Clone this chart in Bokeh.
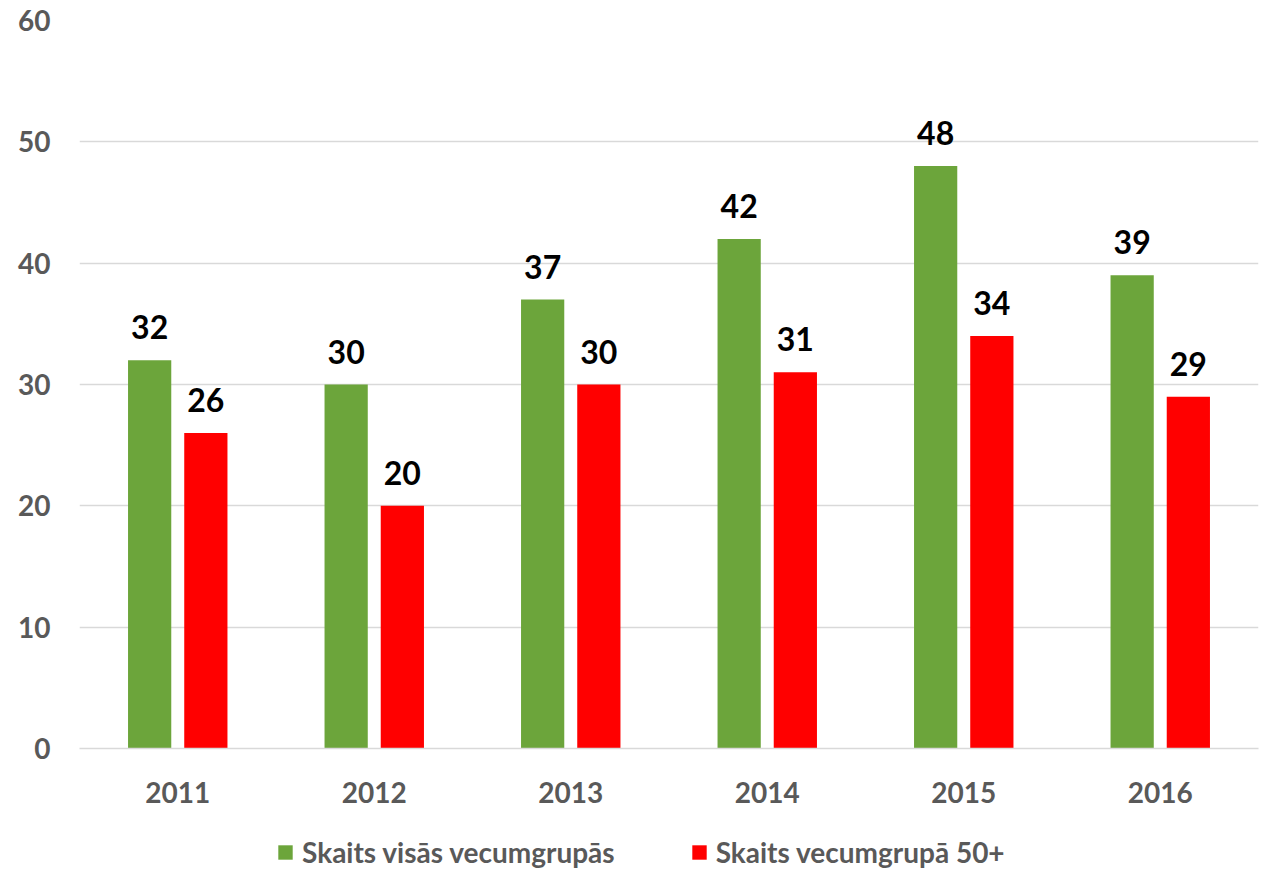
from bokeh.plotting import figure
from bokeh.layouts import column
from bokeh.models import ColumnDataSource, Range1d, FactorRange, Legend, LegendItem, SingleIntervalTicker
from bokeh.transform import dodge
from bokeh.embed import file_html
from bokeh.resources import INLINE
from bokeh.core.properties import value

years = ["2011", "2012", "2013", "2014", "2015", "2016"]
all_ages = [32, 30, 37, 42, 48, 39]
age_50plus = [26, 20, 30, 31, 34, 29]
series_names = ["Skaits visās vecumgrupās", "Skaits vecumgrupā 50+"]

GREEN = "#6ca53b"
RED = "#ff0000"
FONT = "Lato"
GREY = "#595959"

src = ColumnDataSource(dict(year=years, a=all_ages, b=age_50plus,
                            a_txt=[str(v) for v in all_ages], b_txt=[str(v) for v in age_50plus]))

p = figure(x_range=FactorRange(*years), y_range=Range1d(0, 60),
           frame_width=1179, frame_height=728,
           min_border_left=79, min_border_top=20, min_border_right=3, min_border_bottom=86,
           output_backend="svg", toolbar_location=None)

p.outline_line_color = None
p.background_fill_color = "white"
p.border_fill_color = "white"

ga = p.vbar(x=dodge("year", -0.143, range=p.x_range), top="a", width=0.22, source=src,
            fill_color=GREEN, line_color=None)
rb = p.vbar(x=dodge("year", 0.143, range=p.x_range), top="b", width=0.22, source=src,
            fill_color=RED, line_color=None)

for col, txt, off in (("a", "a_txt", -0.143), ("b", "b_txt", 0.143)):
    p.text(x=dodge("year", off, range=p.x_range), y=col, text=txt, source=src,
           text_font=value(FONT), text_font_style="bold", text_font_size="32px",
           text_color="black", text_align="center", text_baseline="alphabetic", y_offset=-33)

# axes
p.yaxis.ticker = SingleIntervalTicker(interval=10)
p.yaxis.axis_line_color = None
p.yaxis.major_tick_line_color = None
p.yaxis.minor_tick_line_color = None
p.yaxis.major_label_standoff = 23
p.yaxis.major_label_text_font = FONT
p.yaxis.major_label_text_font_style = "bold"
p.yaxis.major_label_text_font_size = "28px"
p.yaxis.major_label_text_color = GREY

p.xaxis.axis_line_color = "#d9d9d9"
p.xaxis.axis_line_width = 1.5
p.xaxis.major_tick_line_color = None
p.xaxis.minor_tick_line_color = None
p.xaxis.major_label_standoff = 27
p.xaxis.major_label_text_font = FONT
p.xaxis.major_label_text_font_style = "bold"
p.xaxis.major_label_text_font_size = "28px"
p.xaxis.major_label_text_color = GREY

p.xgrid.grid_line_color = None
p.ygrid.grid_line_color = "#d9d9d9"
p.ygrid.grid_line_width = 1.5

# legend strip below the chart (legend swatches come from hidden renderers of the same data)
lg = figure(width=1261, height=36, min_border=0, x_axis_location=None, y_axis_location=None,
            output_backend="svg", toolbar_location=None)
lg.outline_line_color = None
lg.xgrid.grid_line_color = None
lg.ygrid.grid_line_color = None
la = lg.vbar(x="a", top="a", width=1, source=src, fill_color=GREEN, line_color=None, visible=False)
lb = lg.vbar(x="b", top="b", width=1, source=src, fill_color=RED, line_color=None, visible=False)

legend = Legend(items=[LegendItem(label=series_names[0], renderers=[la]),
                       LegendItem(label=series_names[1], renderers=[lb])],
                orientation="horizontal", location="left",
                label_text_font=FONT, label_text_font_style="bold",
                label_text_font_size="28px", label_text_color=GREY,
                glyph_width=18, glyph_height=18, label_standoff=8, spacing=75,
                border_line_color=None, background_fill_alpha=0, margin=197, padding=0)
lg.add_layout(legend, "center")

open("out.html", "w").write(file_html(column(p, lg, spacing=0), INLINE))
